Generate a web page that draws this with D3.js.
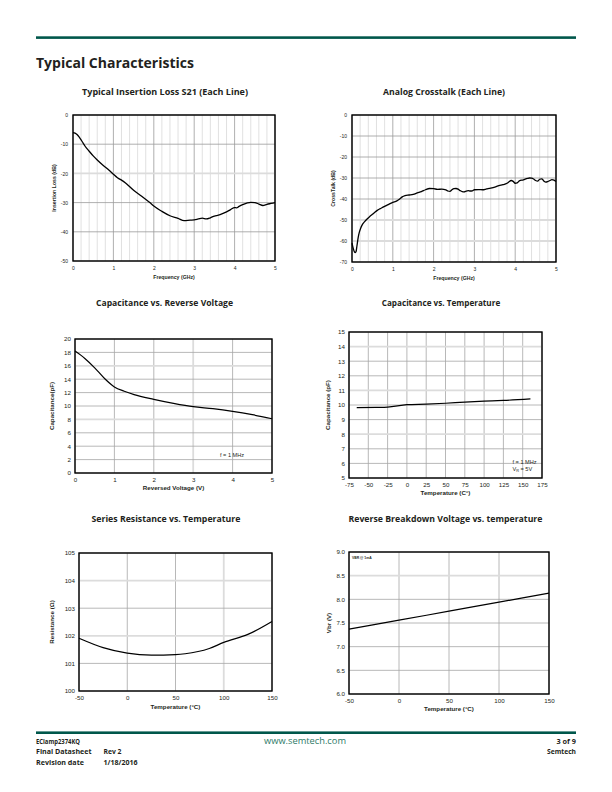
<!DOCTYPE html>
<html><head><meta charset="utf-8">
<script src="https://cdn.jsdelivr.net/npm/d3@7"></script>
<style>
html,body{margin:0;padding:0;background:#fff;}
svg{display:block;}
</style></head>
<body>
<svg id="page" width="612" height="792"></svg>
<script>
// ---------- DATA ----------
const s21Freq = [0,0.05,0.1,0.15,0.2,0.25,0.3,0.4,0.5,0.6,0.75,0.9,1.0,1.1,1.2,1.3,1.5,1.7,1.9,2.0,2.2,2.4,2.6,2.75,2.9,3.0,3.1,3.2,3.3,3.4,3.5,3.6,3.7,3.8,3.9,4.0,4.05,4.1,4.2,4.3,4.4,4.5,4.6,4.7,4.8,4.9,5.0];
const s21Loss = [-6.0,-6.2,-6.7,-7.5,-8.5,-9.6,-10.7,-12.4,-14.0,-15.4,-17.3,-19.0,-20.3,-21.5,-22.3,-23.3,-25.8,-27.8,-30.0,-31.2,-33.0,-34.5,-35.4,-36.2,-36.0,-35.9,-35.6,-35.3,-35.6,-35.2,-34.6,-34.3,-33.8,-33.2,-32.4,-31.7,-31.8,-31.4,-30.7,-30.2,-29.9,-30.0,-30.5,-31.0,-30.6,-30.3,-30.0];

const xtFreq = [0,0.03,0.06,0.08,0.1,0.12,0.15,0.18,0.21,0.25,0.31,0.37,0.43,0.5,0.56,0.62,0.68,0.76,0.85,0.92,1.0,1.1,1.17,1.23,1.3,1.4,1.5,1.6,1.7,1.8,1.9,2.0,2.1,2.2,2.3,2.35,2.4,2.45,2.5,2.55,2.6,2.65,2.7,2.75,2.8,2.85,2.9,2.95,3.0,3.1,3.2,3.3,3.4,3.5,3.6,3.7,3.8,3.85,3.9,3.95,4.0,4.05,4.1,4.2,4.3,4.35,4.4,4.45,4.5,4.55,4.6,4.65,4.7,4.75,4.8,4.85,4.9,4.95,5.0];
const xtDb = [-61,-63.5,-65.2,-65.5,-65,-62.5,-58.5,-55.8,-54,-52.3,-50.8,-49.5,-48.4,-47.3,-46.3,-45.4,-44.7,-43.9,-43,-42.3,-41.6,-40.9,-40.0,-39.0,-38.4,-38.1,-37.8,-37.1,-36.5,-35.6,-35.0,-35.1,-35.4,-35.3,-35.6,-36.2,-36.4,-35.6,-35.1,-35.0,-35.3,-36.0,-36.5,-36.6,-36.2,-36.0,-36.2,-36.1,-35.6,-35.5,-35.6,-35.2,-34.8,-34.3,-33.6,-33.2,-32.5,-31.8,-31.2,-31.6,-32.5,-32.3,-31.4,-30.9,-30.2,-30.0,-30.1,-30.5,-31.2,-31.5,-30.6,-30.4,-31.4,-32.0,-31.7,-31.2,-30.8,-31.0,-31.7];

const cvVolt = [0,0.25,0.5,0.75,1,1.25,1.5,2,2.5,3,3.5,4,4.5,5];
const cvCap  = [18.2,17.1,15.7,14.1,12.85,12.2,11.7,11.0,10.4,9.9,9.6,9.2,8.7,8.1];

const ctTemp = [-65,-40,-25,0,25,50,75,100,125,160];
const ctCap  = [9.82,9.84,9.86,10.02,10.06,10.12,10.2,10.26,10.31,10.42];

const rtTemp = [-50,-25,0,25,50,60,85,100,125,150];
const rtRes  = [101.91,101.57,101.37,101.30,101.32,101.35,101.54,101.76,102.05,102.52];

const vbTemp = [-50,0,50,100,150];
const vbVolt = [7.37,7.56,7.75,7.94,8.13];

// tick labels
const ticksFreq = [0,1,2,3,4,5];
const ticksS21 = [0,-10,-20,-30,-40,-50];
const ticksXt = [0,-10,-20,-30,-40,-50,-60,-70];
const ticksCapV = [0,2,4,6,8,10,12,14,16,18,20];
const ticksTempWide = [-75,-50,-25,0,25,50,75,100,125,150,175];
const ticksCapT = [5,6,7,8,9,10,11,12,13,14,15];
const ticksTemp = [-50,0,50,100,150];
const ticksRes = [100,101,102,103,104,105];
const ticksVbr = [6.0,6.5,7.0,7.5,8.0,8.5,9.0];

// ---------- PAGE ----------
const svg = d3.select("#page");
svg.append("rect").attr("width",612).attr("height",792).attr("fill","#fff");
const teal = "#00574b";
const titleFont = "'Open Sans', 'DejaVu Sans', sans-serif";
const tickFont = "'Liberation Sans', Arial, sans-serif";
const intFmt = d => String(d);
const oneFmt = d => d.toFixed(1);

svg.append("rect").attr("x",36).attr("y",36.3).attr("width",540).attr("height",2.6).attr("fill",teal);
svg.append("text").attr("x",36).attr("y",67.5).attr("font-family",titleFont).attr("font-weight",700)
  .attr("font-size",15).attr("fill","#231f20").attr("textLength",158).attr("lengthAdjust","spacingAndGlyphs")
  .text("Typical Characteristics");

// footer
svg.append("rect").attr("x",36).attr("y",731.4).attr("width",540).attr("height",2.6).attr("fill",teal);
const foot = [
  {t:"EClamp2374KQ",x:36,y:743.5,a:"start",w:44},
  {t:"Final Datasheet",x:36,y:754,a:"start",w:55.5},
  {t:"Revision date",x:36,y:764.5,a:"start",w:48},
  {t:"Rev 2",x:103.5,y:754,a:"start",w:18},
  {t:"1/18/2016",x:103.5,y:764.5,a:"start",w:34},
  {t:"3 of 9",x:576,y:743.5,a:"end",w:19.5},
  {t:"Semtech",x:576,y:754,a:"end",w:29}
];
foot.forEach(f=>{
  svg.append("text").attr("x",f.x).attr("y",f.y).attr("text-anchor",f.a).attr("font-family",titleFont)
    .attr("font-weight",700).attr("font-size",7.6).attr("fill","#231f20")
    .attr("textLength",f.w).attr("lengthAdjust","spacingAndGlyphs").text(f.t);
});
svg.append("text").attr("x",305).attr("y",743.5).attr("text-anchor","middle").attr("font-family",titleFont)
  .attr("font-size",8.5).attr("fill","#2e7a68").attr("textLength",82).attr("lengthAdjust","spacingAndGlyphs")
  .text("www.semtech.com");

// ---------- CHART FUNCTION ----------
function drawChart(c, xs, ys){
  const g = svg.append("g");
  const x = d3.scaleLinear().domain(c.xDomain).range([c.x0,c.x1]);
  const y = d3.scaleLinear().domain(c.yDomain).range([c.y1,c.y0]);
  const W = c.x1-c.x0, H = c.y1-c.y0;

  if(c.minorX){
    const m = d3.range(c.xDomain[0], c.xDomain[1]+1e-9, c.minorX).filter(v=>Math.abs(v-Math.round(v))>1e-6);
    g.append("g").selectAll("line").data(m).join("line")
      .attr("x1",d=>x(d)).attr("x2",d=>x(d)).attr("y1",c.y0).attr("y2",c.y1)
      .attr("stroke","#d4d4d4").attr("stroke-width",0.7);
  }
  const hl = c.hlX||[], hly = c.hlY||[];
  g.append("g").selectAll("line").data(c.xTicks).join("line")
    .attr("x1",d=>x(d)).attr("x2",d=>x(d)).attr("y1",c.y0).attr("y2",c.y1)
    .attr("stroke",d=>hl.includes(d)?"#dcdcdc":c.gridColor).attr("stroke-width",d=>hl.includes(d)?1.8:c.gridW);
  g.append("g").selectAll("line").data(c.yTicks).join("line")
    .attr("x1",c.x0).attr("x2",c.x1).attr("y1",d=>y(d)).attr("y2",d=>y(d))
    .attr("stroke",d=>hly.includes(d)?"#dcdcdc":c.gridColor).attr("stroke-width",d=>hly.includes(d)?1.8:c.gridW);

  const pts = xs.map((v,i)=>[v,ys[i]]);
  g.append("path").datum(pts)
    .attr("d", d3.line().x(d=>x(d[0])).y(d=>y(d[1])).curve(d3.curveMonotoneX))
    .attr("fill","none").attr("stroke","#000").attr("stroke-width",c.lineW).attr("stroke-linejoin","round");

  g.append("rect").attr("x",c.x0).attr("y",c.y0).attr("width",W).attr("height",H)
    .attr("fill","none").attr("stroke","#000").attr("stroke-width",c.frameW);

  const ax = g.append("g").attr("transform",`translate(0,${c.y1})`)
    .call(d3.axisBottom(x).tickValues(c.xTicks).tickFormat(c.xFmt).tickSize(0).tickPadding(c.xPad));
  ax.select(".domain").remove();
  ax.selectAll("text").attr("font-family",tickFont).attr("font-size",c.tickSize).attr("fill","#231f20");
  const ay = g.append("g").attr("transform",`translate(${c.x0},0)`)
    .call(d3.axisLeft(y).tickValues(c.yTicks).tickFormat(c.yFmt).tickSize(0).tickPadding(c.yPad));
  ay.select(".domain").remove();
  ay.selectAll("text").attr("font-family",tickFont).attr("font-size",c.tickSize).attr("fill","#231f20");

  g.append("text").attr("x",(c.x0+c.x1)/2).attr("y",c.xTitleY).attr("text-anchor","middle")
    .attr("font-family",tickFont).attr("font-weight",700).attr("font-size",c.axTitleSize).attr("fill","#231f20")
    .text(c.xTitle);
  g.append("text").attr("transform",`translate(${c.yTitleX},${(c.y0+c.y1)/2}) rotate(-90)`).attr("text-anchor","middle")
    .attr("font-family",tickFont).attr("font-weight",700).attr("font-size",c.axTitleSize).attr("fill","#231f20")
    .text(c.yTitle);

  g.append("text").attr("x",c.titleX).attr("y",c.titleY).attr("text-anchor","middle")
    .attr("font-family",titleFont).attr("font-weight",700).attr("font-size",9.2).attr("fill","#231f20")
    .attr("textLength",c.titleW).attr("lengthAdjust","spacingAndGlyphs").text(c.title);
  return {g,x,y};
}

const base12 = {gridColor:"#9a9a9a", gridW:0.8, lineW:1.3, frameW:1.4, tickSize:5, axTitleSize:5.2, xPad:5, yPad:5};
const base36 = {gridColor:"#a6a6a6", gridW:0.8, lineW:1.2, frameW:1.4, tickSize:6.2, axTitleSize:6.2, xPad:5, yPad:4};

drawChart(Object.assign({}, base12, {
  x0:73,x1:275,y0:115,y1:261, xDomain:[0,5], yDomain:[-50,0], xTicks:ticksFreq, yTicks:ticksS21,
  xFmt:intFmt, yFmt:intFmt, minorX:0.2, hlY:[-20],
  xTitle:"Frequency (GHz)", yTitle:"Insertion Loss (dB)", xTitleY:278.5, yTitleX:55.5,
  title:"Typical Insertion Loss S21 (Each Line)", titleX:165, titleY:94.5, titleW:166
}), s21Freq, s21Loss);

drawChart(Object.assign({}, base12, {
  x0:352,x1:556,y0:115,y1:262, xDomain:[0,5], yDomain:[-70,0], xTicks:ticksFreq, yTicks:ticksXt,
  xFmt:intFmt, yFmt:intFmt, minorX:0.2, hlY:[-50,-60],
  xTitle:"Frequency (GHz)", yTitle:"CrossTalk (dB)", xTitleY:279.5, yTitleX:334.5,
  title:"Analog Crosstalk (Each Line)", titleX:444, titleY:94.5, titleW:122
}), xtFreq, xtDb);

const c3 = drawChart(Object.assign({}, base36, {
  x0:75,x1:272,y0:339,y1:473, xDomain:[0,5], yDomain:[0,20], xTicks:ticksFreq, yTicks:ticksCapV,
  xFmt:intFmt, yFmt:intFmt, hlY:[16,8], hlX:[3],
  xTitle:"Reversed Voltage (V)", yTitle:"Capacitance(pF)", xTitleY:490, yTitleX:54,
  title:"Capacitance vs. Reverse Voltage", titleX:164.5, titleY:305.5, titleW:137
}), cvVolt, cvCap);
c3.g.append("text").attr("x",220).attr("y",456.5).attr("font-family",tickFont).attr("font-size",5.6)
  .attr("fill","#231f20").text("f = 1 MHz");

const c4 = drawChart(Object.assign({}, base36, {
  x0:349,x1:542,y0:332,y1:478, xDomain:[-75,175], yDomain:[5,15], xTicks:ticksTempWide, yTicks:ticksCapT,
  xFmt:intFmt, yFmt:intFmt, hlY:[14,11,8],
  xTitle:"Temperature (C°)", yTitle:"Capacitance (pF)", xTitleY:494.5, yTitleX:330,
  title:"Capacitance vs. Temperature", titleX:441, titleY:305.5, titleW:118.5
}), ctTemp, ctCap);
c4.g.append("text").attr("x",512.5).attr("y",464).attr("font-family",tickFont).attr("font-size",5.6)
  .attr("fill","#231f20").text("f = 1 MHz");
const vr = c4.g.append("text").attr("x",512.5).attr("y",471).attr("font-family",tickFont).attr("font-size",5.6)
  .attr("fill","#231f20");
vr.append("tspan").text("V");
vr.append("tspan").attr("font-size",3.8).attr("dy",1.2).text("R");
vr.append("tspan").attr("dy",-1.2).text(" = 5V");

drawChart(Object.assign({}, base36, {
  x0:79,x1:272,y0:553,y1:691, xDomain:[-50,150], yDomain:[100,105], xTicks:ticksTemp, yTicks:ticksRes,
  xFmt:intFmt, yFmt:intFmt, hlY:[104,102], hlX:[100],
  xTitle:"Temperature (°C)", yTitle:"Resistance (Ω)", xTitleY:708.5, yTitleX:53.5,
  title:"Series Resistance vs. Temperature", titleX:166, titleY:522, titleW:149
}), rtTemp, rtRes);

const c6 = drawChart(Object.assign({}, base36, {
  x0:349,x1:549,y0:552,y1:694, xDomain:[-50,150], yDomain:[6,9], xTicks:ticksTemp, yTicks:ticksVbr,
  xFmt:intFmt, yFmt:oneFmt, hlY:[8.5],
  xTitle:"Temperature (°C)", yTitle:"Vbr (V)", xTitleY:710.5, yTitleX:331,
  title:"Reverse Breakdown Voltage vs. temperature", titleX:445.5, titleY:522, titleW:194
}), vbTemp, vbVolt);
c6.g.append("text").attr("x",352).attr("y",558.5).attr("font-family",tickFont).attr("font-weight",700)
  .attr("font-size",3.4).attr("fill","#231f20").text("VBR @ 1mA");
</script>
</body></html>
